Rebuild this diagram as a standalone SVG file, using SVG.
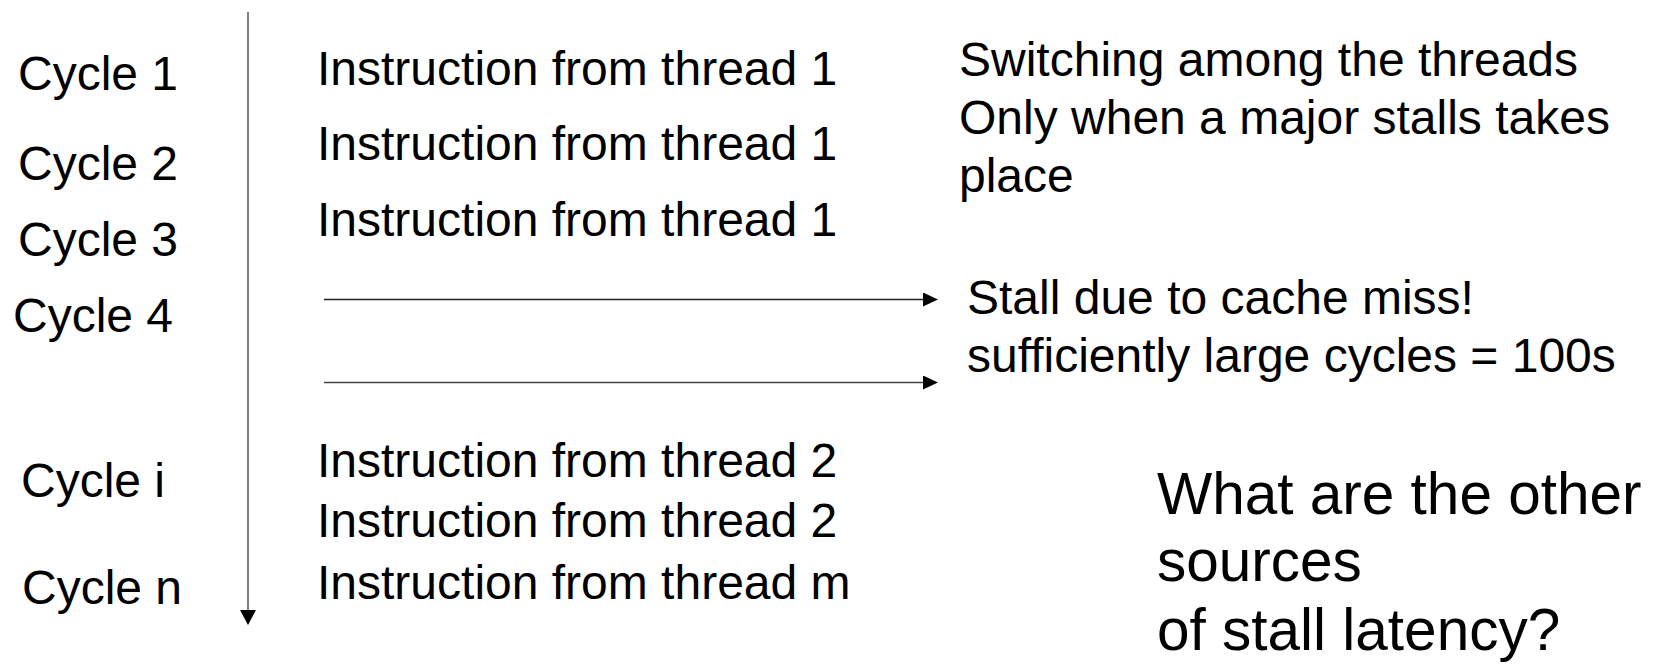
<svg xmlns="http://www.w3.org/2000/svg" width="1661" height="664" viewBox="0 0 1661 664">
<style>
text { font-family: "Liberation Sans", Arial, sans-serif; fill: #000; }
.t { font-size: 48px; }
.big { font-size: 58.5px; }
</style>
<defs>
<marker id="ahV" markerUnits="userSpaceOnUse" markerWidth="15" markerHeight="16" viewBox="0 0 15 16" refX="0" refY="8" orient="auto">
<path d="M0,0 L15,8 L0,16 z" fill="#000"/>
</marker>
<marker id="ahH" markerUnits="userSpaceOnUse" markerWidth="15" markerHeight="14" viewBox="0 0 15 14" refX="0" refY="7" orient="auto">
<path d="M0,0 L15,7 L0,14 z" fill="#000"/>
</marker>
</defs>
<rect width="1661" height="664" fill="#fff"/>
<g id="connectors">
<line x1="248" y1="12" x2="248" y2="610" stroke="#808080" stroke-width="2" marker-end="url(#ahV)"/>
<line x1="324" y1="299.5" x2="923" y2="299.5" stroke="#222" stroke-width="1.5" marker-end="url(#ahH)"/>
<line x1="324" y1="382.5" x2="923" y2="382.5" stroke="#444" stroke-width="1.5" marker-end="url(#ahH)"/>
</g>
<g id="cycles">
<text class="t" x="18" y="90">Cycle 1</text>
<text class="t" x="18" y="180">Cycle 2</text>
<text class="t" x="18" y="256">Cycle 3</text>
<text class="t" x="13" y="332">Cycle 4</text>
<text class="t" x="21" y="497">Cycle i</text>
<text class="t" x="22" y="604">Cycle n</text>
</g>
<g id="instructions">
<text class="t" x="317" y="85">Instruction from thread 1</text>
<text class="t" x="317" y="160">Instruction from thread 1</text>
<text class="t" x="317" y="236">Instruction from thread 1</text>
<text class="t" x="317" y="477">Instruction from thread 2</text>
<text class="t" x="317" y="537">Instruction from thread 2</text>
<text class="t" x="317" y="599">Instruction from thread m</text>
</g>
<g id="switching">
<text class="t" x="959" y="76">Switching among the threads</text>
<text class="t" x="959" y="134">Only when a major stalls takes</text>
<text class="t" x="959" y="192">place</text>
</g>
<g id="stall">
<text class="t" x="967" y="314">Stall due to cache miss!</text>
<text class="t" x="967" y="372">sufficiently large cycles = 100s</text>
</g>
<g id="question">
<text class="big" x="1157" y="514">What are the other</text>
<text class="big" x="1157" y="581">sources</text>
<text class="big" x="1157" y="650">of stall latency?</text>
</g>
</svg>
